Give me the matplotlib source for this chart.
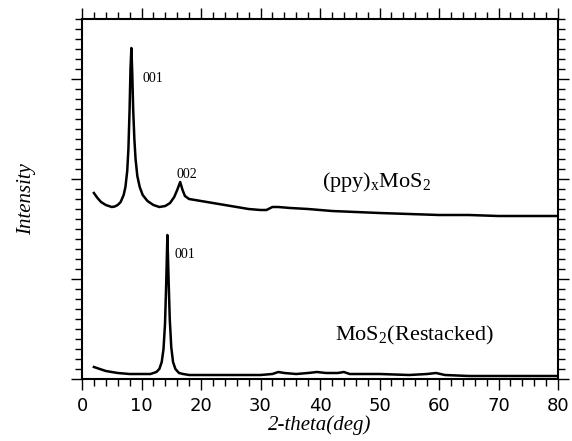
import matplotlib
matplotlib.use("Agg")
import matplotlib.pyplot as plt
from matplotlib.ticker import MultipleLocator

# Data
ppy_x = [2.0, 2.6, 3.2, 4.0, 5.0, 5.5, 6.0, 6.5, 7.0, 7.3, 7.6, 7.8, 8.0, 8.15, 8.3,
         8.45, 8.6, 8.8, 9.0, 9.3, 9.7, 10.2, 11.0, 12.0, 13.0, 14.0, 14.8, 15.5, 16.0,
         16.5, 16.9, 17.3, 18.0, 20, 22, 24, 26, 28, 30, 31, 32, 33, 35, 38, 42, 46,
         50, 55, 60, 65, 70, 75, 80]
ppy_y = [1.86, 1.81, 1.77, 1.74, 1.72, 1.725, 1.74, 1.77, 1.84, 1.92, 2.08, 2.30, 2.70,
         3.10, 3.31, 3.05, 2.70, 2.40, 2.20, 2.03, 1.92, 1.84, 1.78, 1.74, 1.72, 1.73,
         1.76, 1.82, 1.89, 1.97, 1.89, 1.83, 1.80, 1.78, 1.76, 1.74, 1.72, 1.70, 1.69,
         1.69, 1.72, 1.72, 1.71, 1.70, 1.68, 1.67, 1.66, 1.65, 1.64, 1.64, 1.63, 1.63,
         1.63]

mos2_x = [2, 3, 4, 6, 8, 10, 11.5, 12.5, 13.0, 13.4, 13.7, 13.95, 14.15, 14.35, 14.55,
          14.75, 15.0, 15.3, 15.7, 16.3, 17, 18, 20, 25, 30, 32, 33, 34, 36, 38, 39.5,
          41, 43, 44, 45, 47, 50, 55, 58, 59.5, 61, 65, 70, 75, 80]
mos2_y = [0.12, 0.10, 0.08, 0.06, 0.05, 0.05, 0.05, 0.07, 0.10, 0.17, 0.30, 0.55, 0.95,
          1.44, 1.00, 0.60, 0.32, 0.17, 0.10, 0.06, 0.05, 0.04, 0.04, 0.04, 0.04, 0.05,
          0.07, 0.06, 0.05, 0.06, 0.07, 0.06, 0.06, 0.07, 0.05, 0.05, 0.05, 0.04, 0.05,
          0.06, 0.04, 0.03, 0.03, 0.03, 0.03]

xticks = [0, 10, 20, 30, 40, 50, 60, 70, 80]

plt.rcParams['mathtext.fontset'] = 'custom'
plt.rcParams['mathtext.rm'] = 'Liberation Serif'

fig = plt.figure(figsize=(5.72, 4.41), dpi=100)
ax = fig.add_axes([82/572, 1 - 379/441, 476/572, 360/441])

ax.plot(ppy_x, ppy_y, color='black', lw=1.8, solid_joinstyle='round')
ax.plot(mos2_x, mos2_y, color='black', lw=1.8, solid_joinstyle='round')

ax.set_xlim(0, 80)
ax.set_ylim(0, 3.6)
ax.set_xticks(xticks)
ax.set_xticklabels([str(t) for t in xticks], fontsize=13, family='DejaVu Sans')
ax.xaxis.set_minor_locator(MultipleLocator(2))
ax.yaxis.set_major_locator(MultipleLocator(1))
ax.yaxis.set_minor_locator(MultipleLocator(0.1))
ax.tick_params(which='both', direction='out', top=True, right=True, width=1)
ax.tick_params(which='major', length=8)
ax.tick_params(which='minor', length=5)
ax.tick_params(axis='y', labelleft=False, labelright=False)
ax.tick_params(axis='x', labeltop=False, pad=5)
for s in ax.spines.values():
    s.set_linewidth(1.5)

ax.set_xlabel('2-theta(deg)', fontsize=15, family='Liberation Serif', style='italic', labelpad=0)
ax.set_ylabel('Intensity', fontsize=15, family='Liberation Serif', style='italic', labelpad=25)

serif = dict(family='Liberation Serif', va='center', ha='left')
ax.text(10.1, 3.0, '001', fontsize=10, **serif)
ax.text(15.8, 2.04, '002', fontsize=10, **serif)
ax.text(15.6, 1.24, '001', fontsize=10, **serif)
ax.text(40.3, 1.97, r'(ppy)$_\mathregular{x}$MoS$_\mathregular{2}$', fontsize=16, **serif)
ax.text(42.5, 0.44, r'MoS$_\mathregular{2}$(Restacked)', fontsize=16, **serif)

fig.savefig('out.png', dpi=100)
